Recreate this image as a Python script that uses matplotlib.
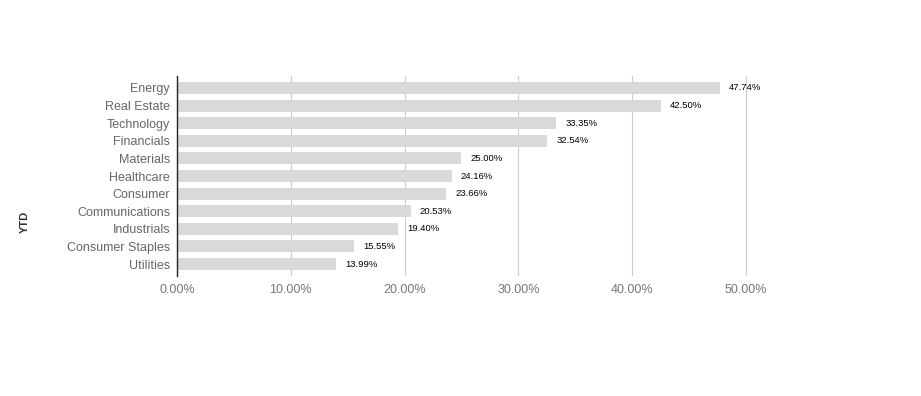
import matplotlib.pyplot as plt
import numpy as np

plt.rcParams['font.family'] = ['Liberation Sans', 'DejaVu Sans']

sectors = ['Energy', 'Real Estate', 'Technology', 'Financials', 'Materials', 'Healthcare',
           'Consumer', 'Communications', 'Industrials', 'Consumer Staples', 'Utilities']
ytd = [47.74, 42.50, 33.35, 32.54, 25.00, 24.16, 23.66, 20.53, 19.40, 15.55, 13.99]
xticks = [0, 10, 20, 30, 40, 50]

fig = plt.figure(figsize=(9.21, 3.96), dpi=100)
ax = fig.add_axes([177 / 921, 1 - 276 / 396, (780 - 177) / 921, 200 / 396])

pos = np.arange(len(sectors))
ax.barh(pos, ytd, height=0.68, color='#d9d9d9', zorder=2)
for p, v in zip(pos, ytd):
    ax.text(v + 0.8, p, f'{v:.2f}%', va='center', ha='left', fontsize=6.8, color='black', zorder=3)

ax.set_ylim(len(sectors) - 0.32, -0.68)
ax.set_xlim(0, 53.0)
ax.set_yticks(pos)
ax.set_yticklabels(sectors, fontsize=9, color='#666666')
ax.set_xticks(xticks)
ax.set_xticklabels([f'{t:.2f}%' for t in xticks], fontsize=9, color='#777777')
ax.tick_params(axis='y', length=0, pad=5)
ax.tick_params(axis='x', length=0, pad=6)
ax.grid(axis='x', color='#cccccc', linewidth=0.8, zorder=0)
for s in ['top', 'right', 'bottom']:
    ax.spines[s].set_visible(False)
ax.spines['left'].set_color('#222222')
ax.spines['left'].set_linewidth(1.0)
ax.spines['left'].set_zorder(4)

fig.text(25 / 921, 1 - 222 / 396, 'YTD', rotation=90, ha='center', va='center',
         fontsize=8, fontweight='bold', color='#333333')

fig.savefig('out.png', dpi=100)
